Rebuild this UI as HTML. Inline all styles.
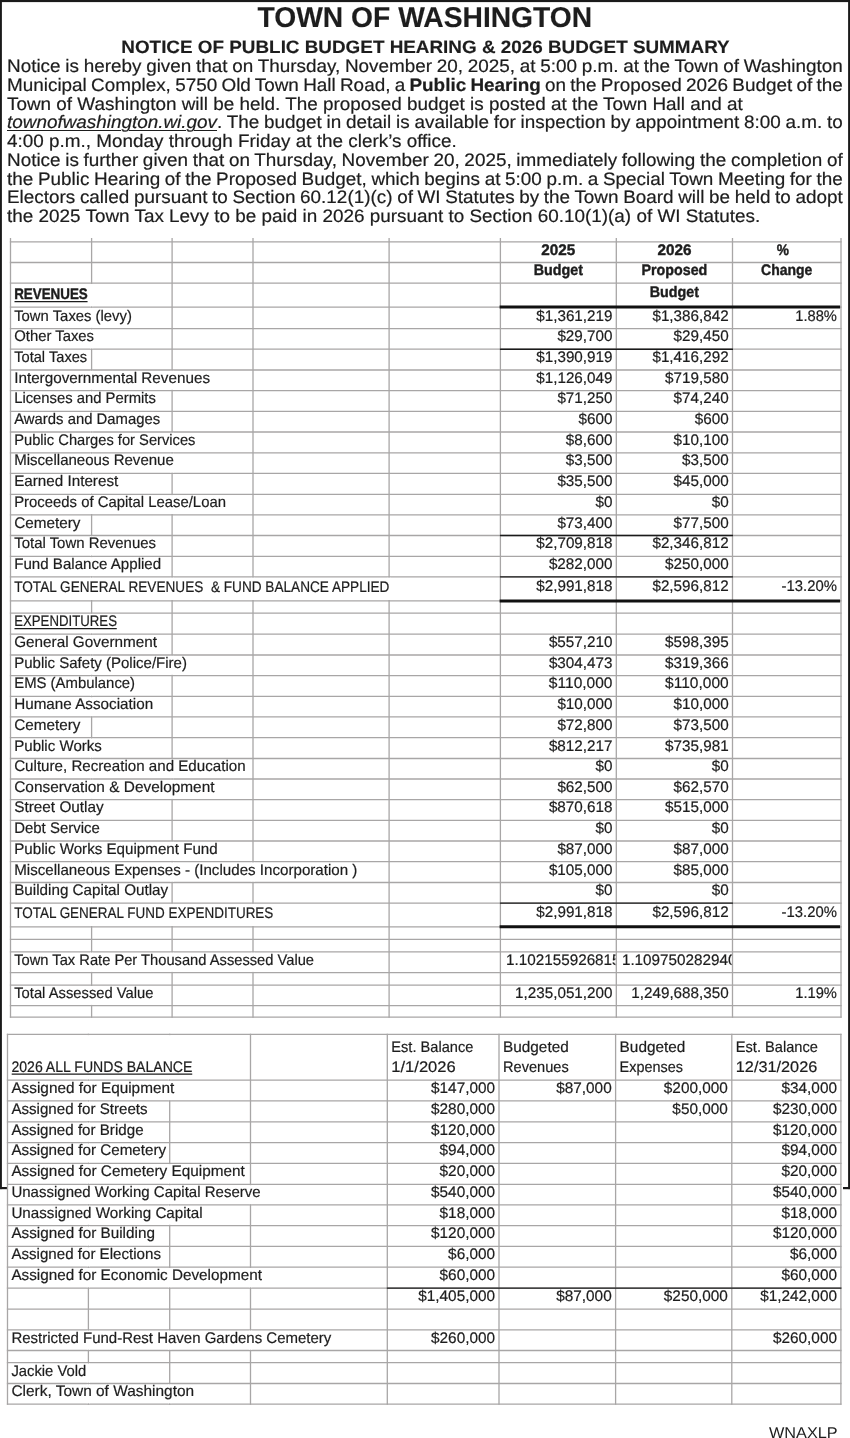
<!DOCTYPE html>
<html><head><meta charset="utf-8"><title>Town of Washington - Notice of Public Budget Hearing</title>
<style>
html,body{margin:0;padding:0;background:#fff}
body{width:850px;height:1438px;position:relative;overflow:hidden;font-family:"Liberation Sans",sans-serif;color:#1d1d1d}
svg{position:absolute;left:0;top:0;display:block;will-change:transform}
svg text{font-family:"Liberation Sans",sans-serif;fill:#1d1d1d;text-rendering:geometricPrecision;white-space:pre}
svg text.h1{stroke:#1d1d1d;stroke-width:0.15px}
svg text.h2{stroke:#1d1d1d;stroke-width:0.15px}
svg text.t{stroke:#1d1d1d;stroke-width:0.2px}
svg text.tb{font-weight:700;stroke:#1d1d1d;stroke-width:0.4px}
.para{position:absolute;left:6.5px;top:0;width:796.42px;height:240px;transform:scaleX(1.04944);transform-origin:0 0;will-change:transform;text-rendering:geometricPrecision;font-size:18.0px;line-height:20.0px}
.pl{position:absolute;left:0;width:796.42px;height:20.0px;overflow:visible;white-space:nowrap}
.pl.j{white-space:normal;text-align:justify;text-align-last:justify;word-spacing:-1.3px}
.pl{-webkit-text-stroke:0.2px #1d1d1d}
.pl b{font-weight:700}
.pl i.u{font-style:italic;text-decoration:underline;text-decoration-thickness:1.2px;text-underline-offset:1.5px}
</style></head><body>
<svg width="850" height="1438" viewBox="0 0 850 1438">
<rect x="0" y="0" width="850" height="2.1" fill="#1a1a1a"/>
<rect x="0" y="0" width="1.9" height="1189.1" fill="#1a1a1a"/>
<rect x="848.1" y="0" width="1.9" height="1189.1" fill="#1a1a1a"/>
<rect x="0" y="1187.0" width="7.0" height="2.2" fill="#1a1a1a"/>
<rect x="843.0" y="1187.0" width="7.0" height="2.2" fill="#1a1a1a"/>
<line x1="9.85" y1="241.90" x2="841.65" y2="241.90" stroke="#a8a6a6" stroke-width="1.3"/>
<line x1="9.85" y1="262.50" x2="841.65" y2="262.50" stroke="#a8a6a6" stroke-width="1.3"/>
<line x1="9.85" y1="283.20" x2="841.65" y2="283.20" stroke="#a8a6a6" stroke-width="1.3"/>
<line x1="9.85" y1="307.10" x2="841.65" y2="307.10" stroke="#a8a6a6" stroke-width="1.3"/>
<line x1="9.85" y1="328.70" x2="841.65" y2="328.70" stroke="#a8a6a6" stroke-width="1.3"/>
<line x1="9.85" y1="349.20" x2="841.65" y2="349.20" stroke="#a8a6a6" stroke-width="1.3"/>
<line x1="9.85" y1="370.00" x2="841.65" y2="370.00" stroke="#a8a6a6" stroke-width="1.3"/>
<line x1="9.85" y1="390.60" x2="841.65" y2="390.60" stroke="#a8a6a6" stroke-width="1.3"/>
<line x1="9.85" y1="411.30" x2="841.65" y2="411.30" stroke="#a8a6a6" stroke-width="1.3"/>
<line x1="9.85" y1="432.00" x2="841.65" y2="432.00" stroke="#a8a6a6" stroke-width="1.3"/>
<line x1="9.85" y1="452.90" x2="841.65" y2="452.90" stroke="#a8a6a6" stroke-width="1.3"/>
<line x1="9.85" y1="473.40" x2="841.65" y2="473.40" stroke="#a8a6a6" stroke-width="1.3"/>
<line x1="9.85" y1="494.30" x2="841.65" y2="494.30" stroke="#a8a6a6" stroke-width="1.3"/>
<line x1="9.85" y1="514.80" x2="841.65" y2="514.80" stroke="#a8a6a6" stroke-width="1.3"/>
<line x1="9.85" y1="535.50" x2="841.65" y2="535.50" stroke="#a8a6a6" stroke-width="1.3"/>
<line x1="9.85" y1="556.30" x2="841.65" y2="556.30" stroke="#a8a6a6" stroke-width="1.3"/>
<line x1="9.85" y1="576.90" x2="841.65" y2="576.90" stroke="#a8a6a6" stroke-width="1.3"/>
<line x1="9.85" y1="600.80" x2="841.65" y2="600.80" stroke="#a8a6a6" stroke-width="1.3"/>
<line x1="9.85" y1="613.10" x2="841.65" y2="613.10" stroke="#a8a6a6" stroke-width="1.3"/>
<line x1="9.85" y1="634.10" x2="841.65" y2="634.10" stroke="#a8a6a6" stroke-width="1.3"/>
<line x1="9.85" y1="655.00" x2="841.65" y2="655.00" stroke="#a8a6a6" stroke-width="1.3"/>
<line x1="9.85" y1="675.60" x2="841.65" y2="675.60" stroke="#a8a6a6" stroke-width="1.3"/>
<line x1="9.85" y1="696.40" x2="841.65" y2="696.40" stroke="#a8a6a6" stroke-width="1.3"/>
<line x1="9.85" y1="716.90" x2="841.65" y2="716.90" stroke="#a8a6a6" stroke-width="1.3"/>
<line x1="9.85" y1="737.70" x2="841.65" y2="737.70" stroke="#a8a6a6" stroke-width="1.3"/>
<line x1="9.85" y1="758.50" x2="841.65" y2="758.50" stroke="#a8a6a6" stroke-width="1.3"/>
<line x1="9.85" y1="779.00" x2="841.65" y2="779.00" stroke="#a8a6a6" stroke-width="1.3"/>
<line x1="9.85" y1="799.70" x2="841.65" y2="799.70" stroke="#a8a6a6" stroke-width="1.3"/>
<line x1="9.85" y1="820.30" x2="841.65" y2="820.30" stroke="#a8a6a6" stroke-width="1.3"/>
<line x1="9.85" y1="841.00" x2="841.65" y2="841.00" stroke="#a8a6a6" stroke-width="1.3"/>
<line x1="9.85" y1="861.70" x2="841.65" y2="861.70" stroke="#a8a6a6" stroke-width="1.3"/>
<line x1="9.85" y1="882.50" x2="841.65" y2="882.50" stroke="#a8a6a6" stroke-width="1.3"/>
<line x1="9.85" y1="903.10" x2="841.65" y2="903.10" stroke="#a8a6a6" stroke-width="1.3"/>
<line x1="9.85" y1="926.80" x2="841.65" y2="926.80" stroke="#a8a6a6" stroke-width="1.3"/>
<line x1="9.85" y1="939.30" x2="841.65" y2="939.30" stroke="#a8a6a6" stroke-width="1.3"/>
<line x1="9.85" y1="951.80" x2="841.65" y2="951.80" stroke="#a8a6a6" stroke-width="1.3"/>
<line x1="9.85" y1="972.70" x2="841.65" y2="972.70" stroke="#a8a6a6" stroke-width="1.3"/>
<line x1="9.85" y1="985.20" x2="841.65" y2="985.20" stroke="#a8a6a6" stroke-width="1.3"/>
<line x1="9.85" y1="1005.70" x2="841.65" y2="1005.70" stroke="#a8a6a6" stroke-width="1.3"/>
<line x1="9.85" y1="1017.10" x2="841.65" y2="1017.10" stroke="#a8a6a6" stroke-width="1.3"/>
<line x1="10.50" y1="237.90" x2="10.50" y2="1017.75" stroke="#a8a6a6" stroke-width="1.3"/>
<line x1="91.60" y1="237.90" x2="91.60" y2="1017.75" stroke="#a8a6a6" stroke-width="1.3"/>
<line x1="172.10" y1="237.90" x2="172.10" y2="1017.75" stroke="#a8a6a6" stroke-width="1.3"/>
<line x1="253.00" y1="237.90" x2="253.00" y2="1017.75" stroke="#a8a6a6" stroke-width="1.3"/>
<line x1="389.10" y1="237.90" x2="389.10" y2="1017.75" stroke="#a8a6a6" stroke-width="1.3"/>
<line x1="500.40" y1="237.90" x2="500.40" y2="1017.75" stroke="#a8a6a6" stroke-width="1.3"/>
<line x1="616.30" y1="237.90" x2="616.30" y2="1017.75" stroke="#a8a6a6" stroke-width="1.3"/>
<line x1="732.50" y1="237.90" x2="732.50" y2="1017.75" stroke="#a8a6a6" stroke-width="1.3"/>
<line x1="841.00" y1="237.90" x2="841.00" y2="1017.75" stroke="#a8a6a6" stroke-width="1.3"/>
<rect x="90.00" y="284.00" width="3.20" height="22.30" fill="#fff"/>
<rect x="90.00" y="307.90" width="3.20" height="20.00" fill="#fff"/>
<rect x="90.00" y="329.50" width="3.20" height="18.90" fill="#fff"/>
<rect x="90.00" y="370.80" width="3.20" height="19.00" fill="#fff"/>
<rect x="170.50" y="370.80" width="3.20" height="19.00" fill="#fff"/>
<rect x="90.00" y="391.40" width="3.20" height="19.10" fill="#fff"/>
<rect x="90.00" y="412.10" width="3.20" height="19.10" fill="#fff"/>
<rect x="90.00" y="432.80" width="3.20" height="19.30" fill="#fff"/>
<rect x="170.50" y="432.80" width="3.20" height="19.30" fill="#fff"/>
<rect x="90.00" y="453.70" width="3.20" height="18.90" fill="#fff"/>
<rect x="170.50" y="453.70" width="3.20" height="18.90" fill="#fff"/>
<rect x="90.00" y="474.20" width="3.20" height="19.30" fill="#fff"/>
<rect x="90.00" y="495.10" width="3.20" height="18.90" fill="#fff"/>
<rect x="170.50" y="495.10" width="3.20" height="18.90" fill="#fff"/>
<rect x="90.00" y="536.30" width="3.20" height="19.20" fill="#fff"/>
<rect x="90.00" y="557.10" width="3.20" height="19.00" fill="#fff"/>
<rect x="90.00" y="577.70" width="3.20" height="22.30" fill="#fff"/>
<rect x="170.50" y="577.70" width="3.20" height="22.30" fill="#fff"/>
<rect x="251.40" y="577.70" width="3.20" height="22.30" fill="#fff"/>
<rect x="387.50" y="577.70" width="3.20" height="22.30" fill="#fff"/>
<rect x="90.00" y="613.90" width="3.20" height="19.40" fill="#fff"/>
<rect x="90.00" y="634.90" width="3.20" height="19.30" fill="#fff"/>
<rect x="90.00" y="655.80" width="3.20" height="19.00" fill="#fff"/>
<rect x="170.50" y="655.80" width="3.20" height="19.00" fill="#fff"/>
<rect x="90.00" y="676.40" width="3.20" height="19.20" fill="#fff"/>
<rect x="90.00" y="697.20" width="3.20" height="18.90" fill="#fff"/>
<rect x="90.00" y="738.50" width="3.20" height="19.20" fill="#fff"/>
<rect x="90.00" y="759.30" width="3.20" height="18.90" fill="#fff"/>
<rect x="170.50" y="759.30" width="3.20" height="18.90" fill="#fff"/>
<rect x="90.00" y="779.80" width="3.20" height="19.10" fill="#fff"/>
<rect x="170.50" y="779.80" width="3.20" height="19.10" fill="#fff"/>
<rect x="90.00" y="800.50" width="3.20" height="19.00" fill="#fff"/>
<rect x="90.00" y="821.10" width="3.20" height="19.10" fill="#fff"/>
<rect x="90.00" y="841.80" width="3.20" height="19.10" fill="#fff"/>
<rect x="170.50" y="841.80" width="3.20" height="19.10" fill="#fff"/>
<rect x="90.00" y="862.50" width="3.20" height="19.20" fill="#fff"/>
<rect x="170.50" y="862.50" width="3.20" height="19.20" fill="#fff"/>
<rect x="251.40" y="862.50" width="3.20" height="19.20" fill="#fff"/>
<rect x="90.00" y="883.30" width="3.20" height="19.00" fill="#fff"/>
<rect x="90.00" y="903.90" width="3.20" height="22.10" fill="#fff"/>
<rect x="170.50" y="903.90" width="3.20" height="22.10" fill="#fff"/>
<rect x="251.40" y="903.90" width="3.20" height="22.10" fill="#fff"/>
<rect x="90.00" y="952.60" width="3.20" height="19.30" fill="#fff"/>
<rect x="170.50" y="952.60" width="3.20" height="19.30" fill="#fff"/>
<rect x="251.40" y="952.60" width="3.20" height="19.30" fill="#fff"/>
<rect x="90.00" y="986.00" width="3.20" height="18.90" fill="#fff"/>
<line x1="499.90" y1="349.30" x2="733.00" y2="349.30" stroke="#1b1b1b" stroke-width="1.4"/>
<line x1="499.90" y1="535.50" x2="733.00" y2="535.50" stroke="#1b1b1b" stroke-width="1.4"/>
<line x1="499.90" y1="576.90" x2="733.00" y2="576.90" stroke="#1b1b1b" stroke-width="1.4"/>
<line x1="499.90" y1="903.10" x2="733.00" y2="903.10" stroke="#1b1b1b" stroke-width="1.4"/>
<line x1="499.60" y1="307.00" x2="840.10" y2="307.00" stroke="#111" stroke-width="3.0"/>
<line x1="499.60" y1="600.90" x2="840.10" y2="600.90" stroke="#111" stroke-width="3.0"/>
<line x1="499.60" y1="926.80" x2="840.10" y2="926.80" stroke="#111" stroke-width="3.0"/>
<text x="541.37" y="255.00" font-size="15.3" textLength="33.96" lengthAdjust="spacingAndGlyphs" class="tb" xml:space="preserve">2025</text>
<text x="657.42" y="255.00" font-size="15.3" textLength="33.96" lengthAdjust="spacingAndGlyphs" class="tb" xml:space="preserve">2026</text>
<text x="776.64" y="255.00" font-size="15.3" textLength="12.21" lengthAdjust="spacingAndGlyphs" class="tb" xml:space="preserve">%</text>
<text x="533.72" y="275.00" font-size="15.3" textLength="49.25" lengthAdjust="spacingAndGlyphs" class="tb" xml:space="preserve">Budget</text>
<text x="641.52" y="275.00" font-size="15.3" textLength="65.77" lengthAdjust="spacingAndGlyphs" class="tb" xml:space="preserve">Proposed</text>
<text x="761.10" y="275.00" font-size="15.3" textLength="51.31" lengthAdjust="spacingAndGlyphs" class="tb" xml:space="preserve">Change</text>
<text x="649.77" y="297.00" font-size="15.3" textLength="49.25" lengthAdjust="spacingAndGlyphs" class="tb" xml:space="preserve">Budget</text>
<text x="14.20" y="299.10" font-size="15.3" textLength="73.57" lengthAdjust="spacingAndGlyphs" class="tb" xml:space="preserve">REVENUES</text>
<line x1="14.50" y1="301.60" x2="87.57" y2="301.60" stroke="#1d1d1d" stroke-width="1.25"/>
<text x="14.20" y="320.70" font-size="15.3" textLength="117.71" lengthAdjust="spacingAndGlyphs" class="t" xml:space="preserve">Town Taxes (levy)</text>
<text x="536.23" y="320.70" font-size="15.3" textLength="76.27" lengthAdjust="spacingAndGlyphs" class="t" xml:space="preserve">$1,361,219</text>
<text x="652.43" y="320.70" font-size="15.3" textLength="76.27" lengthAdjust="spacingAndGlyphs" class="t" xml:space="preserve">$1,386,842</text>
<text x="795.23" y="320.70" font-size="15.3" textLength="41.67" lengthAdjust="spacingAndGlyphs" class="t" xml:space="preserve">1.88%</text>
<text x="14.20" y="341.20" font-size="15.3" textLength="79.88" lengthAdjust="spacingAndGlyphs" class="t" xml:space="preserve">Other Taxes</text>
<text x="557.38" y="341.20" font-size="15.3" textLength="55.12" lengthAdjust="spacingAndGlyphs" class="t" xml:space="preserve">$29,700</text>
<text x="673.58" y="341.20" font-size="15.3" textLength="55.12" lengthAdjust="spacingAndGlyphs" class="t" xml:space="preserve">$29,450</text>
<text x="14.20" y="362.00" font-size="15.3" textLength="72.99" lengthAdjust="spacingAndGlyphs" class="t" xml:space="preserve">Total Taxes</text>
<text x="536.23" y="362.00" font-size="15.3" textLength="76.27" lengthAdjust="spacingAndGlyphs" class="t" xml:space="preserve">$1,390,919</text>
<text x="652.43" y="362.00" font-size="15.3" textLength="76.27" lengthAdjust="spacingAndGlyphs" class="t" xml:space="preserve">$1,416,292</text>
<text x="14.20" y="382.60" font-size="15.3" textLength="195.84" lengthAdjust="spacingAndGlyphs" class="t" xml:space="preserve">Intergovernmental Revenues</text>
<text x="536.23" y="382.60" font-size="15.3" textLength="76.27" lengthAdjust="spacingAndGlyphs" class="t" xml:space="preserve">$1,126,049</text>
<text x="665.09" y="382.60" font-size="15.3" textLength="63.61" lengthAdjust="spacingAndGlyphs" class="t" xml:space="preserve">$719,580</text>
<text x="14.20" y="403.30" font-size="15.3" textLength="141.62" lengthAdjust="spacingAndGlyphs" class="t" xml:space="preserve">Licenses and Permits</text>
<text x="557.38" y="403.30" font-size="15.3" textLength="55.12" lengthAdjust="spacingAndGlyphs" class="t" xml:space="preserve">$71,250</text>
<text x="673.58" y="403.30" font-size="15.3" textLength="55.12" lengthAdjust="spacingAndGlyphs" class="t" xml:space="preserve">$74,240</text>
<text x="14.20" y="424.00" font-size="15.3" textLength="146.02" lengthAdjust="spacingAndGlyphs" class="t" xml:space="preserve">Awards and Damages</text>
<text x="578.54" y="424.00" font-size="15.3" textLength="33.96" lengthAdjust="spacingAndGlyphs" class="t" xml:space="preserve">$600</text>
<text x="694.74" y="424.00" font-size="15.3" textLength="33.96" lengthAdjust="spacingAndGlyphs" class="t" xml:space="preserve">$600</text>
<text x="14.20" y="444.90" font-size="15.3" textLength="181.22" lengthAdjust="spacingAndGlyphs" class="t" xml:space="preserve">Public Charges for Services</text>
<text x="565.87" y="444.90" font-size="15.3" textLength="46.63" lengthAdjust="spacingAndGlyphs" class="t" xml:space="preserve">$8,600</text>
<text x="673.58" y="444.90" font-size="15.3" textLength="55.12" lengthAdjust="spacingAndGlyphs" class="t" xml:space="preserve">$10,100</text>
<text x="14.20" y="465.40" font-size="15.3" textLength="159.67" lengthAdjust="spacingAndGlyphs" class="t" xml:space="preserve">Miscellaneous Revenue</text>
<text x="565.87" y="465.40" font-size="15.3" textLength="46.63" lengthAdjust="spacingAndGlyphs" class="t" xml:space="preserve">$3,500</text>
<text x="682.07" y="465.40" font-size="15.3" textLength="46.63" lengthAdjust="spacingAndGlyphs" class="t" xml:space="preserve">$3,500</text>
<text x="14.20" y="486.30" font-size="15.3" textLength="104.04" lengthAdjust="spacingAndGlyphs" class="t" xml:space="preserve">Earned Interest</text>
<text x="557.38" y="486.30" font-size="15.3" textLength="55.12" lengthAdjust="spacingAndGlyphs" class="t" xml:space="preserve">$35,500</text>
<text x="673.58" y="486.30" font-size="15.3" textLength="55.12" lengthAdjust="spacingAndGlyphs" class="t" xml:space="preserve">$45,000</text>
<text x="14.20" y="506.80" font-size="15.3" textLength="211.79" lengthAdjust="spacingAndGlyphs" class="t" xml:space="preserve">Proceeds of Capital Lease/Loan</text>
<text x="595.52" y="506.80" font-size="15.3" textLength="16.98" lengthAdjust="spacingAndGlyphs" class="t" xml:space="preserve">$0</text>
<text x="711.72" y="506.80" font-size="15.3" textLength="16.98" lengthAdjust="spacingAndGlyphs" class="t" xml:space="preserve">$0</text>
<text x="14.20" y="527.50" font-size="15.3" textLength="66.16" lengthAdjust="spacingAndGlyphs" class="t" xml:space="preserve">Cemetery</text>
<text x="557.38" y="527.50" font-size="15.3" textLength="55.12" lengthAdjust="spacingAndGlyphs" class="t" xml:space="preserve">$73,400</text>
<text x="673.58" y="527.50" font-size="15.3" textLength="55.12" lengthAdjust="spacingAndGlyphs" class="t" xml:space="preserve">$77,500</text>
<text x="14.20" y="548.30" font-size="15.3" textLength="141.84" lengthAdjust="spacingAndGlyphs" class="t" xml:space="preserve">Total Town Revenues</text>
<text x="536.23" y="548.30" font-size="15.3" textLength="76.27" lengthAdjust="spacingAndGlyphs" class="t" xml:space="preserve">$2,709,818</text>
<text x="652.43" y="548.30" font-size="15.3" textLength="76.27" lengthAdjust="spacingAndGlyphs" class="t" xml:space="preserve">$2,346,812</text>
<text x="14.20" y="568.90" font-size="15.3" textLength="147.00" lengthAdjust="spacingAndGlyphs" class="t" xml:space="preserve">Fund Balance Applied</text>
<text x="548.89" y="568.90" font-size="15.3" textLength="63.61" lengthAdjust="spacingAndGlyphs" class="t" xml:space="preserve">$282,000</text>
<text x="665.09" y="568.90" font-size="15.3" textLength="63.61" lengthAdjust="spacingAndGlyphs" class="t" xml:space="preserve">$250,000</text>
<text x="14.20" y="592.20" font-size="15.3" textLength="375.24" lengthAdjust="spacingAndGlyphs" class="t" xml:space="preserve">TOTAL GENERAL REVENUES  &amp; FUND BALANCE APPLIED</text>
<text x="536.23" y="591.00" font-size="15.3" textLength="76.27" lengthAdjust="spacingAndGlyphs" class="t" xml:space="preserve">$2,991,818</text>
<text x="652.43" y="591.00" font-size="15.3" textLength="76.27" lengthAdjust="spacingAndGlyphs" class="t" xml:space="preserve">$2,596,812</text>
<text x="781.61" y="591.00" font-size="15.3" textLength="55.29" lengthAdjust="spacingAndGlyphs" class="t" xml:space="preserve">-13.20%</text>
<text x="14.20" y="626.10" font-size="15.3" textLength="102.76" lengthAdjust="spacingAndGlyphs" class="t" xml:space="preserve">EXPENDITURES</text>
<line x1="14.50" y1="628.60" x2="116.76" y2="628.60" stroke="#1d1d1d" stroke-width="1.05"/>
<text x="14.20" y="647.00" font-size="15.3" textLength="142.86" lengthAdjust="spacingAndGlyphs" class="t" xml:space="preserve">General Government</text>
<text x="548.89" y="647.00" font-size="15.3" textLength="63.61" lengthAdjust="spacingAndGlyphs" class="t" xml:space="preserve">$557,210</text>
<text x="665.09" y="647.00" font-size="15.3" textLength="63.61" lengthAdjust="spacingAndGlyphs" class="t" xml:space="preserve">$598,395</text>
<text x="14.20" y="667.60" font-size="15.3" textLength="172.73" lengthAdjust="spacingAndGlyphs" class="t" xml:space="preserve">Public Safety (Police/Fire)</text>
<text x="548.89" y="667.60" font-size="15.3" textLength="63.61" lengthAdjust="spacingAndGlyphs" class="t" xml:space="preserve">$304,473</text>
<text x="665.09" y="667.60" font-size="15.3" textLength="63.61" lengthAdjust="spacingAndGlyphs" class="t" xml:space="preserve">$319,366</text>
<text x="14.20" y="688.40" font-size="15.3" textLength="120.90" lengthAdjust="spacingAndGlyphs" class="t" xml:space="preserve">EMS (Ambulance)</text>
<text x="548.89" y="688.40" font-size="15.3" textLength="63.61" lengthAdjust="spacingAndGlyphs" class="t" xml:space="preserve">$110,000</text>
<text x="665.09" y="688.40" font-size="15.3" textLength="63.61" lengthAdjust="spacingAndGlyphs" class="t" xml:space="preserve">$110,000</text>
<text x="14.20" y="708.90" font-size="15.3" textLength="138.95" lengthAdjust="spacingAndGlyphs" class="t" xml:space="preserve">Humane Association</text>
<text x="557.38" y="708.90" font-size="15.3" textLength="55.12" lengthAdjust="spacingAndGlyphs" class="t" xml:space="preserve">$10,000</text>
<text x="673.58" y="708.90" font-size="15.3" textLength="55.12" lengthAdjust="spacingAndGlyphs" class="t" xml:space="preserve">$10,000</text>
<text x="14.20" y="729.70" font-size="15.3" textLength="66.16" lengthAdjust="spacingAndGlyphs" class="t" xml:space="preserve">Cemetery</text>
<text x="557.38" y="729.70" font-size="15.3" textLength="55.12" lengthAdjust="spacingAndGlyphs" class="t" xml:space="preserve">$72,800</text>
<text x="673.58" y="729.70" font-size="15.3" textLength="55.12" lengthAdjust="spacingAndGlyphs" class="t" xml:space="preserve">$73,500</text>
<text x="14.20" y="750.50" font-size="15.3" textLength="87.69" lengthAdjust="spacingAndGlyphs" class="t" xml:space="preserve">Public Works</text>
<text x="548.89" y="750.50" font-size="15.3" textLength="63.61" lengthAdjust="spacingAndGlyphs" class="t" xml:space="preserve">$812,217</text>
<text x="665.09" y="750.50" font-size="15.3" textLength="63.61" lengthAdjust="spacingAndGlyphs" class="t" xml:space="preserve">$735,981</text>
<text x="14.20" y="771.00" font-size="15.3" textLength="231.42" lengthAdjust="spacingAndGlyphs" class="t" xml:space="preserve">Culture, Recreation and Education</text>
<text x="595.52" y="771.00" font-size="15.3" textLength="16.98" lengthAdjust="spacingAndGlyphs" class="t" xml:space="preserve">$0</text>
<text x="711.72" y="771.00" font-size="15.3" textLength="16.98" lengthAdjust="spacingAndGlyphs" class="t" xml:space="preserve">$0</text>
<text x="14.20" y="791.70" font-size="15.3" textLength="200.34" lengthAdjust="spacingAndGlyphs" class="t" xml:space="preserve">Conservation &amp; Development</text>
<text x="557.38" y="791.70" font-size="15.3" textLength="55.12" lengthAdjust="spacingAndGlyphs" class="t" xml:space="preserve">$62,500</text>
<text x="673.58" y="791.70" font-size="15.3" textLength="55.12" lengthAdjust="spacingAndGlyphs" class="t" xml:space="preserve">$62,570</text>
<text x="14.20" y="812.30" font-size="15.3" textLength="89.54" lengthAdjust="spacingAndGlyphs" class="t" xml:space="preserve">Street Outlay</text>
<text x="548.89" y="812.30" font-size="15.3" textLength="63.61" lengthAdjust="spacingAndGlyphs" class="t" xml:space="preserve">$870,618</text>
<text x="665.09" y="812.30" font-size="15.3" textLength="63.61" lengthAdjust="spacingAndGlyphs" class="t" xml:space="preserve">$515,000</text>
<text x="14.20" y="833.00" font-size="15.3" textLength="85.62" lengthAdjust="spacingAndGlyphs" class="t" xml:space="preserve">Debt Service</text>
<text x="595.52" y="833.00" font-size="15.3" textLength="16.98" lengthAdjust="spacingAndGlyphs" class="t" xml:space="preserve">$0</text>
<text x="711.72" y="833.00" font-size="15.3" textLength="16.98" lengthAdjust="spacingAndGlyphs" class="t" xml:space="preserve">$0</text>
<text x="14.20" y="853.70" font-size="15.3" textLength="203.51" lengthAdjust="spacingAndGlyphs" class="t" xml:space="preserve">Public Works Equipment Fund</text>
<text x="557.38" y="853.70" font-size="15.3" textLength="55.12" lengthAdjust="spacingAndGlyphs" class="t" xml:space="preserve">$87,000</text>
<text x="673.58" y="853.70" font-size="15.3" textLength="55.12" lengthAdjust="spacingAndGlyphs" class="t" xml:space="preserve">$87,000</text>
<text x="14.20" y="874.50" font-size="15.3" textLength="343.22" lengthAdjust="spacingAndGlyphs" class="t" xml:space="preserve">Miscellaneous Expenses - (Includes Incorporation )</text>
<text x="548.89" y="874.50" font-size="15.3" textLength="63.61" lengthAdjust="spacingAndGlyphs" class="t" xml:space="preserve">$105,000</text>
<text x="673.58" y="874.50" font-size="15.3" textLength="55.12" lengthAdjust="spacingAndGlyphs" class="t" xml:space="preserve">$85,000</text>
<text x="14.20" y="895.10" font-size="15.3" textLength="154.01" lengthAdjust="spacingAndGlyphs" class="t" xml:space="preserve">Building Capital Outlay</text>
<text x="595.52" y="895.10" font-size="15.3" textLength="16.98" lengthAdjust="spacingAndGlyphs" class="t" xml:space="preserve">$0</text>
<text x="711.72" y="895.10" font-size="15.3" textLength="16.98" lengthAdjust="spacingAndGlyphs" class="t" xml:space="preserve">$0</text>
<text x="14.20" y="918.20" font-size="15.3" textLength="259.16" lengthAdjust="spacingAndGlyphs" class="t" xml:space="preserve">TOTAL GENERAL FUND EXPENDITURES</text>
<text x="536.23" y="917.00" font-size="15.3" textLength="76.27" lengthAdjust="spacingAndGlyphs" class="t" xml:space="preserve">$2,991,818</text>
<text x="652.43" y="917.00" font-size="15.3" textLength="76.27" lengthAdjust="spacingAndGlyphs" class="t" xml:space="preserve">$2,596,812</text>
<text x="781.61" y="917.00" font-size="15.3" textLength="55.29" lengthAdjust="spacingAndGlyphs" class="t" xml:space="preserve">-13.20%</text>
<text x="14.20" y="964.70" font-size="15.3" textLength="299.84" lengthAdjust="spacingAndGlyphs" class="t" xml:space="preserve">Town Tax Rate Per Thousand Assessed Value</text>
<clipPath id="c0"><rect x="500.40" y="951.80" width="115.00" height="20.90"/></clipPath>
<text x="506.00" y="964.70" font-size="15.3" textLength="114.59" lengthAdjust="spacingAndGlyphs" class="t" clip-path="url(#c0)" xml:space="preserve">1.102155926815</text>
<clipPath id="c1"><rect x="616.30" y="951.80" width="115.30" height="20.90"/></clipPath>
<text x="621.90" y="964.70" font-size="15.3" textLength="114.59" lengthAdjust="spacingAndGlyphs" class="t" clip-path="url(#c1)" xml:space="preserve">1.109750282940</text>
<text x="14.20" y="997.70" font-size="15.3" textLength="139.29" lengthAdjust="spacingAndGlyphs" class="t" xml:space="preserve">Total Assessed Value</text>
<text x="515.07" y="997.70" font-size="15.3" textLength="97.43" lengthAdjust="spacingAndGlyphs" class="t" xml:space="preserve">1,235,051,200</text>
<text x="631.27" y="997.70" font-size="15.3" textLength="97.43" lengthAdjust="spacingAndGlyphs" class="t" xml:space="preserve">1,249,688,350</text>
<text x="795.23" y="997.70" font-size="15.3" textLength="41.67" lengthAdjust="spacingAndGlyphs" class="t" xml:space="preserve">1.19%</text>
<line x1="6.85" y1="1034.30" x2="841.55" y2="1034.30" stroke="#a8a6a6" stroke-width="1.3"/>
<line x1="6.85" y1="1080.10" x2="841.55" y2="1080.10" stroke="#a8a6a6" stroke-width="1.3"/>
<line x1="6.85" y1="1100.90" x2="841.55" y2="1100.90" stroke="#a8a6a6" stroke-width="1.3"/>
<line x1="6.85" y1="1121.80" x2="841.55" y2="1121.80" stroke="#a8a6a6" stroke-width="1.3"/>
<line x1="6.85" y1="1142.70" x2="841.55" y2="1142.70" stroke="#a8a6a6" stroke-width="1.3"/>
<line x1="6.85" y1="1163.30" x2="841.55" y2="1163.30" stroke="#a8a6a6" stroke-width="1.3"/>
<line x1="6.85" y1="1184.40" x2="841.55" y2="1184.40" stroke="#a8a6a6" stroke-width="1.3"/>
<line x1="6.85" y1="1204.90" x2="841.55" y2="1204.90" stroke="#a8a6a6" stroke-width="1.3"/>
<line x1="6.85" y1="1225.60" x2="841.55" y2="1225.60" stroke="#a8a6a6" stroke-width="1.3"/>
<line x1="6.85" y1="1246.40" x2="841.55" y2="1246.40" stroke="#a8a6a6" stroke-width="1.3"/>
<line x1="6.85" y1="1267.20" x2="841.55" y2="1267.20" stroke="#a8a6a6" stroke-width="1.3"/>
<line x1="6.85" y1="1288.10" x2="841.55" y2="1288.10" stroke="#a8a6a6" stroke-width="1.3"/>
<line x1="6.85" y1="1309.10" x2="841.55" y2="1309.10" stroke="#a8a6a6" stroke-width="1.3"/>
<line x1="6.85" y1="1329.80" x2="841.55" y2="1329.80" stroke="#a8a6a6" stroke-width="1.3"/>
<line x1="6.85" y1="1350.50" x2="841.55" y2="1350.50" stroke="#a8a6a6" stroke-width="1.3"/>
<line x1="6.85" y1="1362.70" x2="841.55" y2="1362.70" stroke="#a8a6a6" stroke-width="1.3"/>
<line x1="6.85" y1="1383.50" x2="841.55" y2="1383.50" stroke="#a8a6a6" stroke-width="1.3"/>
<line x1="6.85" y1="1404.10" x2="841.55" y2="1404.10" stroke="#a8a6a6" stroke-width="1.3"/>
<line x1="7.50" y1="1033.65" x2="7.50" y2="1404.75" stroke="#a8a6a6" stroke-width="1.3"/>
<line x1="88.40" y1="1033.65" x2="88.40" y2="1404.75" stroke="#a8a6a6" stroke-width="1.3"/>
<line x1="169.70" y1="1033.65" x2="169.70" y2="1404.75" stroke="#a8a6a6" stroke-width="1.3"/>
<line x1="250.50" y1="1033.65" x2="250.50" y2="1404.75" stroke="#a8a6a6" stroke-width="1.3"/>
<line x1="387.30" y1="1033.65" x2="387.30" y2="1404.75" stroke="#a8a6a6" stroke-width="1.3"/>
<line x1="499.00" y1="1033.65" x2="499.00" y2="1404.75" stroke="#a8a6a6" stroke-width="1.3"/>
<line x1="615.60" y1="1033.65" x2="615.60" y2="1404.75" stroke="#a8a6a6" stroke-width="1.3"/>
<line x1="731.80" y1="1033.65" x2="731.80" y2="1404.75" stroke="#a8a6a6" stroke-width="1.3"/>
<line x1="840.90" y1="1033.65" x2="840.90" y2="1404.75" stroke="#a8a6a6" stroke-width="1.3"/>
<rect x="86.80" y="1035.10" width="3.20" height="44.20" fill="#fff"/>
<rect x="168.10" y="1035.10" width="3.20" height="44.20" fill="#fff"/>
<rect x="86.80" y="1080.90" width="3.20" height="19.20" fill="#fff"/>
<rect x="168.10" y="1080.90" width="3.20" height="19.20" fill="#fff"/>
<rect x="86.80" y="1101.70" width="3.20" height="19.30" fill="#fff"/>
<rect x="86.80" y="1122.60" width="3.20" height="19.30" fill="#fff"/>
<rect x="86.80" y="1143.50" width="3.20" height="19.00" fill="#fff"/>
<rect x="86.80" y="1164.10" width="3.20" height="19.50" fill="#fff"/>
<rect x="168.10" y="1164.10" width="3.20" height="19.50" fill="#fff"/>
<rect x="86.80" y="1185.20" width="3.20" height="18.90" fill="#fff"/>
<rect x="168.10" y="1185.20" width="3.20" height="18.90" fill="#fff"/>
<rect x="248.90" y="1185.20" width="3.20" height="18.90" fill="#fff"/>
<rect x="86.80" y="1205.70" width="3.20" height="19.10" fill="#fff"/>
<rect x="168.10" y="1205.70" width="3.20" height="19.10" fill="#fff"/>
<rect x="86.80" y="1226.40" width="3.20" height="19.20" fill="#fff"/>
<rect x="86.80" y="1247.20" width="3.20" height="19.20" fill="#fff"/>
<rect x="86.80" y="1268.00" width="3.20" height="19.30" fill="#fff"/>
<rect x="168.10" y="1268.00" width="3.20" height="19.30" fill="#fff"/>
<rect x="248.90" y="1268.00" width="3.20" height="19.30" fill="#fff"/>
<rect x="86.80" y="1330.60" width="3.20" height="19.10" fill="#fff"/>
<rect x="168.10" y="1330.60" width="3.20" height="19.10" fill="#fff"/>
<rect x="248.90" y="1330.60" width="3.20" height="19.10" fill="#fff"/>
<rect x="86.80" y="1363.50" width="3.20" height="19.20" fill="#fff"/>
<rect x="86.80" y="1384.30" width="3.20" height="19.00" fill="#fff"/>
<rect x="168.10" y="1384.30" width="3.20" height="19.00" fill="#fff"/>
<line x1="386.80" y1="1288.10" x2="841.40" y2="1288.10" stroke="#1b1b1b" stroke-width="1.4"/>
<text x="391.30" y="1052.00" font-size="15.3" textLength="82.02" lengthAdjust="spacingAndGlyphs" class="t" xml:space="preserve">Est. Balance</text>
<text x="391.30" y="1072.00" font-size="15.3" textLength="64.37" lengthAdjust="spacingAndGlyphs" class="t" xml:space="preserve">1/1/2026</text>
<text x="503.00" y="1052.00" font-size="15.3" textLength="65.77" lengthAdjust="spacingAndGlyphs" class="t" xml:space="preserve">Budgeted</text>
<text x="503.00" y="1072.00" font-size="15.3" textLength="65.78" lengthAdjust="spacingAndGlyphs" class="t" xml:space="preserve">Revenues</text>
<text x="619.60" y="1052.00" font-size="15.3" textLength="65.77" lengthAdjust="spacingAndGlyphs" class="t" xml:space="preserve">Budgeted</text>
<text x="619.60" y="1072.00" font-size="15.3" textLength="63.29" lengthAdjust="spacingAndGlyphs" class="t" xml:space="preserve">Expenses</text>
<text x="735.80" y="1052.00" font-size="15.3" textLength="82.02" lengthAdjust="spacingAndGlyphs" class="t" xml:space="preserve">Est. Balance</text>
<text x="735.80" y="1072.00" font-size="15.3" textLength="81.48" lengthAdjust="spacingAndGlyphs" class="t" xml:space="preserve">12/31/2026</text>
<text x="11.40" y="1072.10" font-size="15.3" textLength="181.04" lengthAdjust="spacingAndGlyphs" class="t" xml:space="preserve">2026 ALL FUNDS BALANCE</text>
<line x1="11.70" y1="1074.10" x2="192.24" y2="1074.10" stroke="#1d1d1d" stroke-width="1.05"/>
<text x="11.40" y="1092.90" font-size="15.3" textLength="162.87" lengthAdjust="spacingAndGlyphs" class="t" xml:space="preserve">Assigned for Equipment</text>
<text x="431.00" y="1092.90" font-size="15.3" textLength="64.10" lengthAdjust="spacingAndGlyphs" class="t" xml:space="preserve">$147,000</text>
<text x="556.16" y="1092.90" font-size="15.3" textLength="55.54" lengthAdjust="spacingAndGlyphs" class="t" xml:space="preserve">$87,000</text>
<text x="663.80" y="1092.90" font-size="15.3" textLength="64.10" lengthAdjust="spacingAndGlyphs" class="t" xml:space="preserve">$200,000</text>
<text x="781.46" y="1092.90" font-size="15.3" textLength="55.54" lengthAdjust="spacingAndGlyphs" class="t" xml:space="preserve">$34,000</text>
<text x="11.40" y="1113.80" font-size="15.3" textLength="136.18" lengthAdjust="spacingAndGlyphs" class="t" xml:space="preserve">Assigned for Streets</text>
<text x="431.00" y="1113.80" font-size="15.3" textLength="64.10" lengthAdjust="spacingAndGlyphs" class="t" xml:space="preserve">$280,000</text>
<text x="672.36" y="1113.80" font-size="15.3" textLength="55.54" lengthAdjust="spacingAndGlyphs" class="t" xml:space="preserve">$50,000</text>
<text x="772.90" y="1113.80" font-size="15.3" textLength="64.10" lengthAdjust="spacingAndGlyphs" class="t" xml:space="preserve">$230,000</text>
<text x="11.40" y="1134.70" font-size="15.3" textLength="132.16" lengthAdjust="spacingAndGlyphs" class="t" xml:space="preserve">Assigned for Bridge</text>
<text x="431.00" y="1134.70" font-size="15.3" textLength="64.10" lengthAdjust="spacingAndGlyphs" class="t" xml:space="preserve">$120,000</text>
<text x="772.90" y="1134.70" font-size="15.3" textLength="64.10" lengthAdjust="spacingAndGlyphs" class="t" xml:space="preserve">$120,000</text>
<text x="11.40" y="1155.30" font-size="15.3" textLength="154.81" lengthAdjust="spacingAndGlyphs" class="t" xml:space="preserve">Assigned for Cemetery</text>
<text x="439.56" y="1155.30" font-size="15.3" textLength="55.54" lengthAdjust="spacingAndGlyphs" class="t" xml:space="preserve">$94,000</text>
<text x="781.46" y="1155.30" font-size="15.3" textLength="55.54" lengthAdjust="spacingAndGlyphs" class="t" xml:space="preserve">$94,000</text>
<text x="11.40" y="1176.40" font-size="15.3" textLength="233.35" lengthAdjust="spacingAndGlyphs" class="t" xml:space="preserve">Assigned for Cemetery Equipment</text>
<text x="439.56" y="1176.40" font-size="15.3" textLength="55.54" lengthAdjust="spacingAndGlyphs" class="t" xml:space="preserve">$20,000</text>
<text x="781.46" y="1176.40" font-size="15.3" textLength="55.54" lengthAdjust="spacingAndGlyphs" class="t" xml:space="preserve">$20,000</text>
<text x="11.40" y="1196.90" font-size="15.3" textLength="249.25" lengthAdjust="spacingAndGlyphs" class="t" xml:space="preserve">Unassigned Working Capital Reserve</text>
<text x="431.00" y="1196.90" font-size="15.3" textLength="64.10" lengthAdjust="spacingAndGlyphs" class="t" xml:space="preserve">$540,000</text>
<text x="772.90" y="1196.90" font-size="15.3" textLength="64.10" lengthAdjust="spacingAndGlyphs" class="t" xml:space="preserve">$540,000</text>
<text x="11.40" y="1217.60" font-size="15.3" textLength="191.27" lengthAdjust="spacingAndGlyphs" class="t" xml:space="preserve">Unassigned Working Capital</text>
<text x="439.56" y="1217.60" font-size="15.3" textLength="55.54" lengthAdjust="spacingAndGlyphs" class="t" xml:space="preserve">$18,000</text>
<text x="781.46" y="1217.60" font-size="15.3" textLength="55.54" lengthAdjust="spacingAndGlyphs" class="t" xml:space="preserve">$18,000</text>
<text x="11.40" y="1238.40" font-size="15.3" textLength="143.50" lengthAdjust="spacingAndGlyphs" class="t" xml:space="preserve">Assigned for Building</text>
<text x="431.00" y="1238.40" font-size="15.3" textLength="64.10" lengthAdjust="spacingAndGlyphs" class="t" xml:space="preserve">$120,000</text>
<text x="772.90" y="1238.40" font-size="15.3" textLength="64.10" lengthAdjust="spacingAndGlyphs" class="t" xml:space="preserve">$120,000</text>
<text x="11.40" y="1259.20" font-size="15.3" textLength="149.57" lengthAdjust="spacingAndGlyphs" class="t" xml:space="preserve">Assigned for Elections</text>
<text x="448.11" y="1259.20" font-size="15.3" textLength="46.99" lengthAdjust="spacingAndGlyphs" class="t" xml:space="preserve">$6,000</text>
<text x="790.01" y="1259.20" font-size="15.3" textLength="46.99" lengthAdjust="spacingAndGlyphs" class="t" xml:space="preserve">$6,000</text>
<text x="11.40" y="1280.10" font-size="15.3" textLength="250.59" lengthAdjust="spacingAndGlyphs" class="t" xml:space="preserve">Assigned for Economic Development</text>
<text x="439.56" y="1280.10" font-size="15.3" textLength="55.54" lengthAdjust="spacingAndGlyphs" class="t" xml:space="preserve">$60,000</text>
<text x="781.46" y="1280.10" font-size="15.3" textLength="55.54" lengthAdjust="spacingAndGlyphs" class="t" xml:space="preserve">$60,000</text>
<text x="418.23" y="1301.10" font-size="15.3" textLength="76.87" lengthAdjust="spacingAndGlyphs" class="t" xml:space="preserve">$1,405,000</text>
<text x="556.16" y="1301.10" font-size="15.3" textLength="55.54" lengthAdjust="spacingAndGlyphs" class="t" xml:space="preserve">$87,000</text>
<text x="663.80" y="1301.10" font-size="15.3" textLength="64.10" lengthAdjust="spacingAndGlyphs" class="t" xml:space="preserve">$250,000</text>
<text x="760.13" y="1301.10" font-size="15.3" textLength="76.87" lengthAdjust="spacingAndGlyphs" class="t" xml:space="preserve">$1,242,000</text>
<text x="11.40" y="1342.50" font-size="15.3" textLength="319.95" lengthAdjust="spacingAndGlyphs" class="t" xml:space="preserve">Restricted Fund-Rest Haven Gardens Cemetery</text>
<text x="431.00" y="1342.50" font-size="15.3" textLength="64.10" lengthAdjust="spacingAndGlyphs" class="t" xml:space="preserve">$260,000</text>
<text x="772.90" y="1342.50" font-size="15.3" textLength="64.10" lengthAdjust="spacingAndGlyphs" class="t" xml:space="preserve">$260,000</text>
<text x="11.40" y="1375.50" font-size="15.3" textLength="74.88" lengthAdjust="spacingAndGlyphs" class="t" xml:space="preserve">Jackie Vold</text>
<text x="11.40" y="1396.10" font-size="15.3" textLength="182.72" lengthAdjust="spacingAndGlyphs" class="t" xml:space="preserve">Clerk, Town of Washington</text>
<text x="257.5" y="26.9" font-size="28.7" font-weight="700" class="h1" textLength="334.7" lengthAdjust="spacingAndGlyphs">TOWN OF WASHINGTON</text>
<text x="121.3" y="52.6" font-size="17.9" font-weight="700" class="h2" textLength="608.4" lengthAdjust="spacingAndGlyphs">NOTICE OF PUBLIC BUDGET HEARING &amp; 2026 BUDGET SUMMARY</text>
<text x="769.0" y="1437.5" font-size="15.6" textLength="68.7" lengthAdjust="spacingAndGlyphs">WNAXLP</text>
</svg>
<div class="para">
<div class="pl j" style="top:55.96px">Notice is hereby given that on Thursday, November 20, 2025, at 5:00 p.m. at the Town of Washington</div>
<div class="pl j" style="top:74.75px">Municipal Complex, 5750 Old Town Hall Road, a <b>Public Hearing</b> on the Proposed 2026 Budget of the</div>
<div class="pl l" style="top:93.54px">Town of Washington will be held. The proposed budget is posted at the Town Hall and at</div>
<div class="pl j" style="top:112.33px"><i class="u">townofwashington.wi.gov</i>. The budget in detail is available for inspection by appointment 8:00 a.m. to</div>
<div class="pl l" style="top:131.12px">4:00 p.m., Monday through Friday at the clerk’s office.</div>
<div class="pl j" style="top:149.91px">Notice is further given that on Thursday, November 20, 2025, immediately following the completion of</div>
<div class="pl j" style="top:168.70px">the Public Hearing of the Proposed Budget, which begins at 5:00 p.m. a Special Town Meeting for the</div>
<div class="pl j" style="top:187.49px">Electors called pursuant to Section 60.12(1)(c) of WI Statutes by the Town Board will be held to adopt</div>
<div class="pl l" style="top:206.28px">the 2025 Town Tax Levy to be paid in 2026 pursuant to Section 60.10(1)(a) of WI Statutes.</div>
</div>
</body></html>
